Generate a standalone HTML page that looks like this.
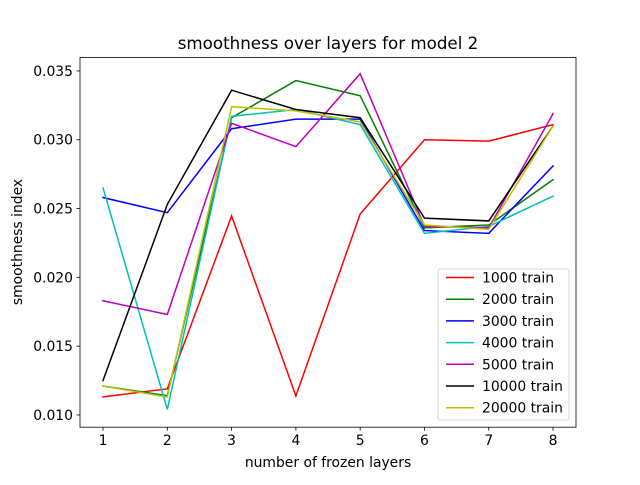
<!DOCTYPE html>
<html><head><meta charset="utf-8"><style>
body{margin:0;background:#fff}
svg{font-family:"DejaVu Sans","Liberation Sans",sans-serif}
</style></head><body>
<svg id="c" width="640" height="480" viewBox="0 0 640 480"></svg>
<script>
const xCats=[1,2,3,4,5,6,7,8];
const yTicks=[0.010,0.015,0.020,0.025,0.030,0.035];
const seriesNames=["1000 train","2000 train","3000 train","4000 train","5000 train","10000 train","20000 train"];
const seriesColors=["#ff0000","#008000","#0000ff","#00bfbf","#bf00bf","#000000","#bfbf00"];
const s1000=[0.01131,0.0119,0.02446,0.01138,0.0246,0.0300,0.0299,0.0311];
const s2000=[0.0121,0.0114,0.0316,0.0343,0.0332,0.0236,0.0238,0.0271];
const s3000=[0.0258,0.0247,0.0308,0.0315,0.0315,0.0234,0.0232,0.0281];
const s4000=[0.0265,0.0104,0.0317,0.0322,0.0311,0.0232,0.0237,0.0259];
const s5000=[0.0183,0.0173,0.0312,0.0295,0.0348,0.0237,0.0236,0.0319];
const s10000=[0.0125,0.0253,0.0336,0.0322,0.0316,0.0243,0.0241,0.0310];
const s20000=[0.0121,0.0113,0.0324,0.0321,0.0313,0.0238,0.0235,0.0310];
const allSeries=[s1000,s2000,s3000,s4000,s5000,s10000,s20000];

const NS="http://www.w3.org/2000/svg";
const svg=document.getElementById('c');
const L=80,R=576,T=57.6,B=427.2;
const xMin=0.642,xMax=8.357,yMin=0.00911,yMax=0.03597;
const xs=v=>L+(v-xMin)/(xMax-xMin)*(R-L);
const ys=v=>B-(v-yMin)/(yMax-yMin)*(B-T);
function mk(tag,attrs,parent){const e=document.createElementNS(NS,tag);for(const k in attrs)e.setAttribute(k,attrs[k]);(parent||svg).appendChild(e);return e;}

const title=mk('text',{x:328,y:49,'text-anchor':'middle','font-size':16.7});
title.textContent='smoothness over layers for model 2';



const plot=mk('g',{});


allSeries.forEach((s,i)=>{
  const pts=s.map((v,j)=>xs(xCats[j]).toFixed(2)+','+ys(v).toFixed(2)).join(' ');
  const p=mk('polyline',{points:pts,fill:'none',stroke:seriesColors[i],'stroke-width':1.5,'stroke-linecap':'square'},plot);
  
  
});

const frame=mk('rect',{x:L,y:T,width:R-L,height:B-T,fill:'none',stroke:'#000','stroke-width':0.8});



const xa=mk('g',{});


xCats.forEach(c=>{
  const x=xs(c);
  mk('line',{x1:x,x2:x,y1:B,y2:B+3.5,stroke:'#000','stroke-width':0.8},xa);
  const t=mk('text',{x:x,y:B+18,'text-anchor':'middle','font-size':13.9},xa);
  t.textContent=c;
});
const ya=mk('g',{});


yTicks.forEach(v=>{
  const y=ys(v);
  mk('line',{x1:L-3.5,x2:L,y1:y,y2:y,stroke:'#000','stroke-width':0.8},ya);
  const t=mk('text',{x:L-7,y:y+5,'text-anchor':'end','font-size':13.9},ya);
  t.textContent=v.toFixed(3);
});
const xl=mk('text',{x:328,y:467,'text-anchor':'middle','font-size':13.9});
xl.textContent='number of frozen layers';


const yl=mk('text',{x:22,y:242,'text-anchor':'middle','font-size':13.9,transform:'rotate(-90 22 242)'});
yl.textContent='smoothness index';



const lg=mk('g',{});


mk('rect',{x:438,y:269,width:131,height:151,rx:2,fill:'#fff','fill-opacity':0.8,stroke:'#ccc','stroke-width':0.8},lg);
seriesNames.forEach((n,i)=>{
  const y=277.5+i*21.7;
  const e=mk('g',{},lg);
  
  
  mk('line',{x1:446,x2:474,y1:y,y2:y,stroke:seriesColors[i],'stroke-width':1.5},e);
  const t=mk('text',{x:482,y:y+5,'font-size':13.9},e);
  t.textContent=n;
});
</script>
</body></html>
